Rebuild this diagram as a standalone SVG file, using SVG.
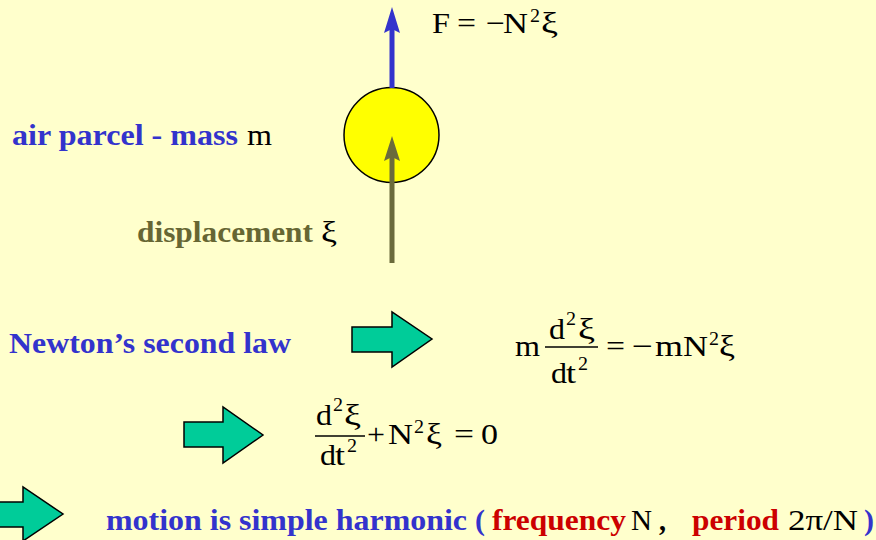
<svg xmlns="http://www.w3.org/2000/svg" width="876" height="540" viewBox="0 0 876 540">
<defs>
<style>
.b{font-family:"Liberation Serif","Times New Roman",serif;font-weight:bold;font-size:30px}
.r{font-family:"Liberation Serif","Times New Roman",serif;font-size:30px;fill:#000}
.s{font-family:"Liberation Serif","Times New Roman",serif;font-size:18px;fill:#000}
.blue{fill:#3333CC}
.red{fill:#CC0000}
.olive{fill:#666633}
.blk{fill:#000}
.garrow{fill:#00CC99;stroke:#000;stroke-width:1.5;stroke-linejoin:miter}
.bar{stroke:#000;stroke-width:1.3}
</style>
</defs>
<rect width="876" height="540" fill="#FFFFCC"/>

<g id="parcel">
<circle cx="391.5" cy="135" r="47.5" fill="#FFFF00" stroke="#000" stroke-width="1.5"/>
</g>

<g id="connectors">
<g id="force-arrow" fill="#3333CC">
<rect x="389.5" y="28" width="5" height="60"/>
<polygon points="392,7 400,33 392,29 384,33"/>
</g>
<g id="displacement-arrow" fill="#6B6B3B">
<rect x="389.5" y="156" width="5" height="107"/>
<polygon points="392,136 400,161 392,157 384,161"/>
</g>
</g>

<g id="force-label">
<text class="r" x="432" y="33" textLength="18" lengthAdjust="spacingAndGlyphs">F</text>
<text class="r" x="457" y="33" textLength="19" lengthAdjust="spacingAndGlyphs">=</text>
<text class="r" x="486" y="33" textLength="19" lengthAdjust="spacingAndGlyphs">−</text>
<text class="r" x="503" y="33" textLength="25" lengthAdjust="spacingAndGlyphs">N</text>
<text class="s" x="530" y="22" textLength="10" lengthAdjust="spacingAndGlyphs">2</text>
<text class="r" x="541" y="33" textLength="17" lengthAdjust="spacingAndGlyphs">ξ</text>
</g>

<g id="parcel-label">
<text class="b blue" x="12" y="145" textLength="226" lengthAdjust="spacingAndGlyphs">air parcel - mass</text>
<text class="r" x="247" y="145" textLength="25" lengthAdjust="spacingAndGlyphs">m</text>
</g>

<g id="displacement-label">
<text class="b olive" x="137" y="242" textLength="176" lengthAdjust="spacingAndGlyphs">displacement</text>
<text class="r" x="321" y="242" textLength="16" lengthAdjust="spacingAndGlyphs">ξ</text>
</g>

<g id="newton-label">
<text class="b blue" x="9" y="353" textLength="282" lengthAdjust="spacingAndGlyphs">Newton’s second law</text>
</g>

<g id="arrow-1">
<polygon class="garrow" points="352,327 392,327 392,312 432,339 392,367 392,352 352,352"/>
</g>

<g id="equation-1">
<text class="r" x="515" y="356" textLength="25" lengthAdjust="spacingAndGlyphs">m</text>
<text class="r" x="549" y="339" textLength="16" lengthAdjust="spacingAndGlyphs">d</text>
<text class="s" x="566" y="325" textLength="10" lengthAdjust="spacingAndGlyphs">2</text>
<text class="r" x="578" y="339" textLength="17" lengthAdjust="spacingAndGlyphs">ξ</text>
<line class="bar" x1="545" y1="347" x2="598" y2="347"/>
<text class="r" x="551" y="383" textLength="16" lengthAdjust="spacingAndGlyphs">d</text>
<text class="r" x="566" y="383" textLength="10" lengthAdjust="spacingAndGlyphs">t</text>
<text class="s" x="578" y="370" textLength="10" lengthAdjust="spacingAndGlyphs">2</text>
<text class="r" x="606" y="356" textLength="19" lengthAdjust="spacingAndGlyphs">=</text>
<text class="r" x="632" y="356" textLength="21" lengthAdjust="spacingAndGlyphs">−</text>
<text class="r" x="655" y="356" textLength="28" lengthAdjust="spacingAndGlyphs">m</text>
<text class="r" x="683" y="356" textLength="25" lengthAdjust="spacingAndGlyphs">N</text>
<text class="s" x="709" y="345" textLength="10" lengthAdjust="spacingAndGlyphs">2</text>
<text class="r" x="719" y="356" textLength="16" lengthAdjust="spacingAndGlyphs">ξ</text>
</g>

<g id="arrow-2">
<polygon class="garrow" points="184,422 223,422 223,407 263,435 223,463 223,447 184,447"/>
</g>

<g id="equation-2">
<text class="r" x="316" y="425" textLength="16" lengthAdjust="spacingAndGlyphs">d</text>
<text class="s" x="333" y="411" textLength="10" lengthAdjust="spacingAndGlyphs">2</text>
<text class="r" x="344" y="425" textLength="17" lengthAdjust="spacingAndGlyphs">ξ</text>
<line class="bar" x1="315" y1="436" x2="365" y2="436"/>
<text class="r" x="320" y="465" textLength="16" lengthAdjust="spacingAndGlyphs">d</text>
<text class="r" x="335" y="465" textLength="10" lengthAdjust="spacingAndGlyphs">t</text>
<text class="s" x="347" y="452" textLength="10" lengthAdjust="spacingAndGlyphs">2</text>
<text class="r" x="367" y="444" textLength="18" lengthAdjust="spacingAndGlyphs">+</text>
<text class="r" x="388" y="444" textLength="25" lengthAdjust="spacingAndGlyphs">N</text>
<text class="s" x="414" y="433" textLength="10" lengthAdjust="spacingAndGlyphs">2</text>
<text class="r" x="426" y="444" textLength="16" lengthAdjust="spacingAndGlyphs">ξ</text>
<text class="r" x="454" y="444" textLength="20" lengthAdjust="spacingAndGlyphs">=</text>
<text class="r" x="481" y="444" textLength="17" lengthAdjust="spacingAndGlyphs">0</text>
</g>

<g id="arrow-3">
<polygon class="garrow" points="-5,502 23,502 23,487 63,514 23,541 23,527 -5,527"/>
</g>

<g id="conclusion">
<text class="b blue" x="106" y="530" textLength="361" lengthAdjust="spacingAndGlyphs">motion is simple harmonic</text>
<text class="b blue" x="475" y="530" textLength="10" lengthAdjust="spacingAndGlyphs">(</text>
<text class="b red" x="492" y="530" textLength="134" lengthAdjust="spacingAndGlyphs">frequency</text>
<text class="r" x="631" y="530" textLength="21" lengthAdjust="spacingAndGlyphs">N</text>
<text class="b blk" x="659" y="530" textLength="7" lengthAdjust="spacingAndGlyphs">,</text>
<text class="b red" x="692" y="530" textLength="87" lengthAdjust="spacingAndGlyphs">period</text>
<text class="r" x="788" y="530" textLength="70" lengthAdjust="spacingAndGlyphs">2π/N</text>
<text class="b blue" x="864" y="530" textLength="10" lengthAdjust="spacingAndGlyphs">)</text>
</g>
</svg>
